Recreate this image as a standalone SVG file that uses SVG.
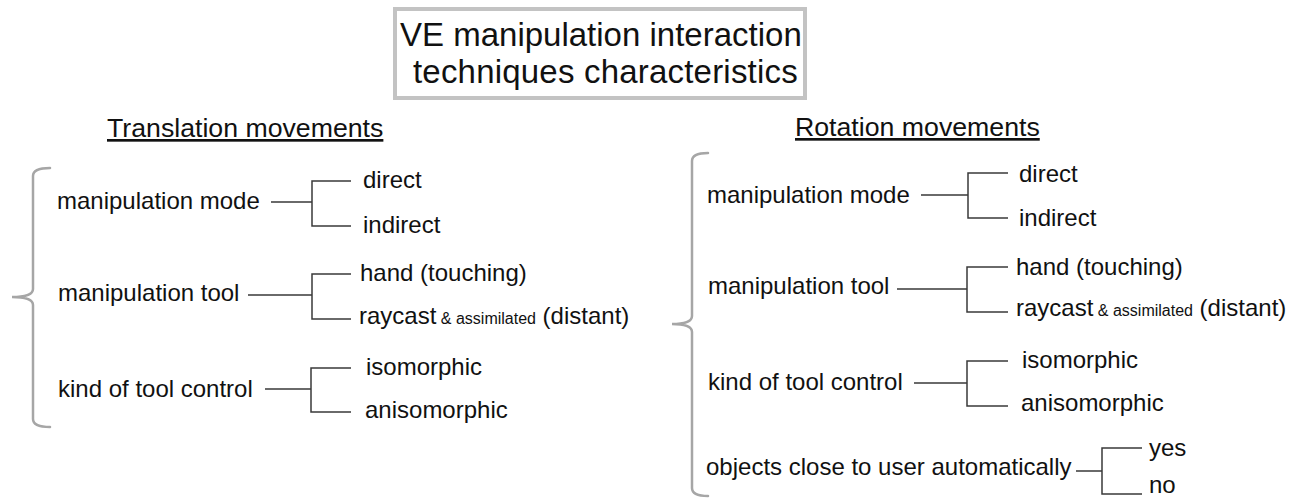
<svg xmlns="http://www.w3.org/2000/svg" width="1295" height="498" viewBox="0 0 1295 498">
<style>
text{font-family:"Liberation Sans",Arial,sans-serif;fill:#111}
.t{font-size:24px}
.s{font-size:16px}
.h{font-size:26.7px;text-decoration:underline}
.ttl{font-size:33px}
.brace{fill:none;stroke:#a6a6a6;stroke-width:2.5;stroke-linecap:round}
.c{fill:none;stroke:#3a3a3a;stroke-width:1.5}
</style>
<rect width="1295" height="498" fill="#fff"/>
<g id="title">
<rect x="395" y="9" width="410" height="89" fill="#fff" stroke="#c3c3c3" stroke-width="4"/>
<text class="ttl" x="400" y="46">VE manipulation interaction</text>
<text class="ttl" x="413" y="83" letter-spacing="0.2">techniques characteristics</text>
</g>
<g id="translation-heading"><text class="h" x="107" y="137">Translation movements</text></g>
<g id="rotation-heading"><text class="h" x="795" y="136">Rotation movements</text></g>
<g id="braces">
<path class="brace" d="M50 168 Q33 168 33 176 V289 Q33 297 12 297 Q33 297 33 305 V419 Q33 427 50 427"/>
<path class="brace" d="M708 153 Q692 153 692 161 V316 Q692 324 672 324 Q692 324 692 332 V488 Q692 496 708 496"/>
</g>
<g id="connectors">
<path class="c" d="M271 202 H312 M351 181 H312 V226 H351"/>
<path class="c" d="M248 295 H312 M351 274 H312 V319 H351"/>
<path class="c" d="M265 389 H311 M351 368 H311 V412 H351"/>
<path class="c" d="M921 195 H968 M1008 173 H968 V218 H1008"/>
<path class="c" d="M897 289 H967 M1008 267 H967 V312 H1008"/>
<path class="c" d="M914 383 H967 M1008 361 H967 V406 H1008"/>
<path class="c" d="M1076 471 H1102 M1142 448 H1102 V494 H1142"/>
</g>
<g id="t-mode"><text class="t" x="57" y="209">manipulation mode</text></g>
<g id="t-direct"><text class="t" x="363" y="188">direct</text></g>
<g id="t-indirect"><text class="t" x="363" y="233">indirect</text></g>
<g id="t-tool"><text class="t" x="58" y="301">manipulation tool</text></g>
<g id="t-hand"><text class="t" x="360" y="281">hand (touching)</text></g>
<g id="t-raycast"><text class="t" x="359" y="324">raycast<tspan class="s"> &amp; assimilated</tspan> (distant)</text></g>
<g id="t-control"><text class="t" x="58" y="397">kind of tool control</text></g>
<g id="t-iso"><text class="t" x="366" y="375">isomorphic</text></g>
<g id="t-aniso"><text class="t" x="365" y="418">anisomorphic</text></g>
<g id="r-mode"><text class="t" x="707" y="203">manipulation mode</text></g>
<g id="r-direct"><text class="t" x="1019" y="182">direct</text></g>
<g id="r-indirect"><text class="t" x="1019" y="226">indirect</text></g>
<g id="r-tool"><text class="t" x="708" y="294">manipulation tool</text></g>
<g id="r-hand"><text class="t" x="1016" y="275">hand (touching)</text></g>
<g id="r-raycast"><text class="t" x="1016" y="316">raycast<tspan class="s"> &amp; assimilated</tspan> (distant)</text></g>
<g id="r-control"><text class="t" x="708" y="390">kind of tool control</text></g>
<g id="r-iso"><text class="t" x="1022" y="368">isomorphic</text></g>
<g id="r-aniso"><text class="t" x="1021" y="411">anisomorphic</text></g>
<g id="r-objects"><text class="t" x="706" y="475" font-size="23.4">objects close to user automatically</text></g>
<g id="r-yes"><text class="t" x="1149" y="456">yes</text></g>
<g id="r-no"><text class="t" x="1149" y="493">no</text></g>
</svg>
